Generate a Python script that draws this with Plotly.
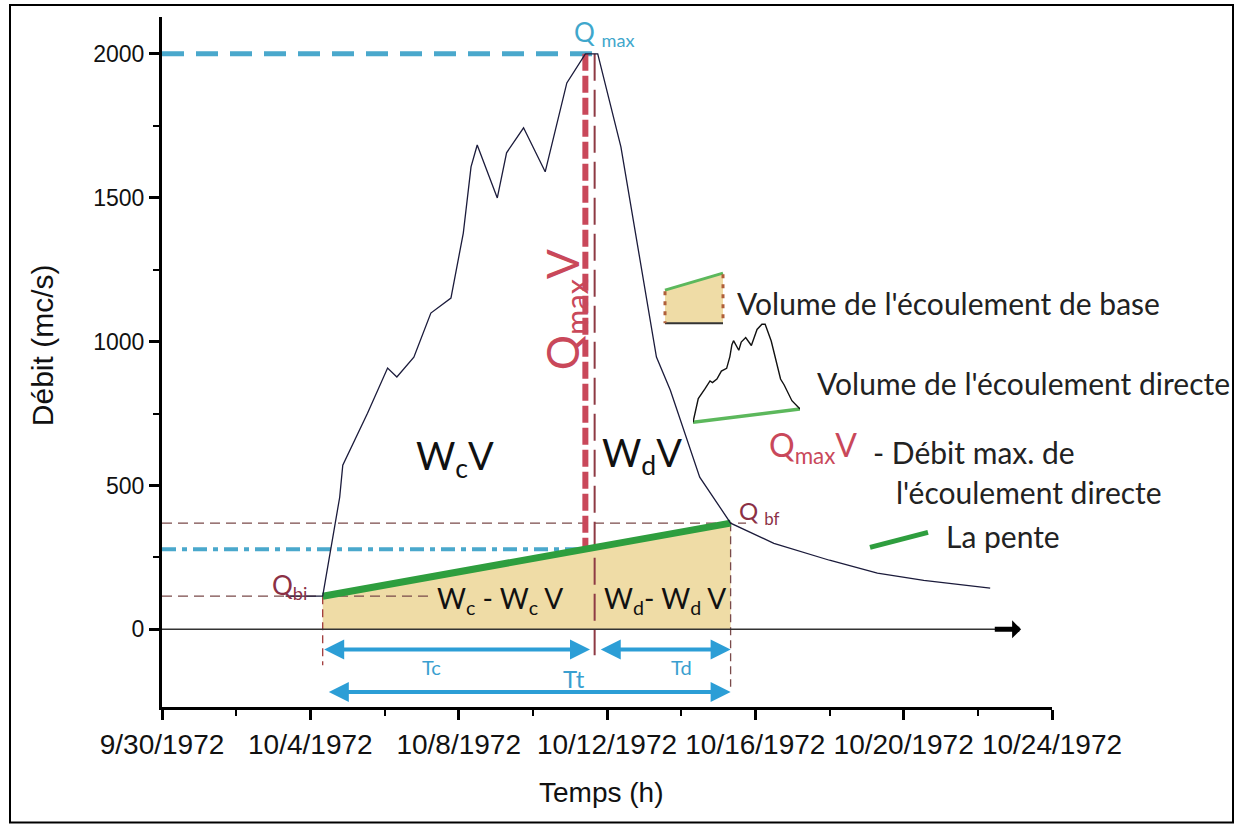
import plotly.graph_objects as go
import pandas as pd

# Flood hydrograph (discharge, m3/s)
time = [
    "1972-10-03 08:00", "1972-10-04 08:00", "1972-10-04 19:00", "1972-10-04 21:00",
    "1972-10-05 13:00", "1972-10-06 02:00", "1972-10-06 08:00", "1972-10-06 19:00",
    "1972-10-07 06:00", "1972-10-07 19:00", "1972-10-08 03:00", "1972-10-08 08:00",
    "1972-10-08 12:00", "1972-10-09 01:00", "1972-10-09 07:00", "1972-10-09 18:00",
    "1972-10-10 08:00", "1972-10-10 22:00", "1972-10-11 10:00", "1972-10-11 18:00",
    "1972-10-12 09:00", "1972-10-13 08:00", "1972-10-13 17:00", "1972-10-14 01:00",
    "1972-10-14 12:00", "1972-10-15 08:00", "1972-10-16 12:00", "1972-10-18 00:00",
    "1972-10-19 07:00", "1972-10-20 13:00", "1972-10-22 08:00",
]
debit = [
    115, 115, 459, 570,
    751, 908, 877, 946,
    1099, 1151, 1377, 1607,
    1683, 1499, 1656, 1743,
    1590, 1899, 2000, 2000,
    1677, 946, 831, 703,
    529, 369, 299, 240,
    195, 170, 143,
]

# Base-flow separation
t_qbi, q_bi = "1972-10-04 08:00", 115      # start of direct runoff
t_qbf, q_bf = "1972-10-15 08:00", 369      # end of direct runoff
t_pic, t_pic_end, q_max = "1972-10-11 10:00", "1972-10-11 18:00", 2000
t_sep = "1972-10-11 16:00"                 # split between Tc and Td

x_ticks_start, x_end = "1972-09-30", "1972-10-24"
y_range = [-270, 2128]

ts = pd.to_datetime(time)
T0, T1 = pd.Timestamp(t_qbi), pd.Timestamp(t_qbf)
frac = (pd.Timestamp(t_pic) - T0) / (T1 - T0)
q_base_pic = q_bi + frac * (q_bf - q_bi)   # base flow under the peak

# plot-area geometry in pixels (used to place the free annotations)
L, R, TOP, BOT = 162, 1052, 17, 706.6
W, H = R - L, BOT - TOP


def px(x, y):
    return dict(xref="paper", yref="paper", x=(x - L) / W, y=(BOT - y) / H)


def pxx(x):
    return (x - L) / W


def pxy(y):
    return (BOT - y) / H


BLUE_LINE = "#4aa8cc"
RED = "#c9485a"
DARK_RED = "#8b3045"
BROWN = "#7a4a4a"
TAN = "#efdca6"
GREEN = "#2e9e3e"
ARROW_BLUE = "#2c9ed6"
TXT_BLUE = "#3a9fd0"
ANN_FONT = "Lato"

fig = go.Figure()

# base-flow volume (area under the separation line)
fig.add_trace(go.Scatter(
    x=[t_qbi, t_qbi, t_qbf, t_qbf, t_qbi], y=[0, q_bi, q_bf, 0, 0],
    fill="toself", fillcolor=TAN, line=dict(width=0), mode="lines",
    hoverinfo="skip", showlegend=False))

# guide lines
fig.add_trace(go.Scatter(x=[x_ticks_start, t_pic_end], y=[q_max, q_max], mode="lines",
                         line=dict(color=BLUE_LINE, width=5, dash="22px,12px"), showlegend=False))
fig.add_trace(go.Scatter(x=[x_ticks_start, t_pic], y=[q_base_pic, q_base_pic], mode="lines",
                         line=dict(color=BLUE_LINE, width=4, dash="14px,6px,5px,6px"), showlegend=False))
fig.add_trace(go.Scatter(x=[x_ticks_start, "1972-10-15 18:00"], y=[q_bf, q_bf], mode="lines",
                         line=dict(color=BROWN, width=1.2, dash="10px,6px"), showlegend=False))
fig.add_trace(go.Scatter(x=[x_ticks_start, "1972-10-07 07:00"], y=[q_bi, q_bi], mode="lines",
                         line=dict(color=BROWN, width=1.2, dash="10px,6px"), showlegend=False))
fig.add_trace(go.Scatter(x=[t_qbi, t_qbi], y=[q_bi, -125], mode="lines",
                         line=dict(color="#a03a3a", width=1.3, dash="8px,5px"), showlegend=False))
fig.add_trace(go.Scatter(x=[t_qbf, t_qbf], y=[q_bf, -200], mode="lines",
                         line=dict(color=BROWN, width=1.3, dash="8px,5px"), showlegend=False))
fig.add_trace(go.Scatter(x=[t_sep, t_sep], y=[q_max, -90], mode="lines",
                         line=dict(color="#8e3a44", width=2, dash="27px,9px"), showlegend=False))
fig.add_trace(go.Scatter(x=[t_pic, t_pic], y=[q_max, q_base_pic], mode="lines",
                         line=dict(color=RED, width=6, dash="17px,5px"), showlegend=False))

# zero line
fig.add_trace(go.Scatter(x=[x_ticks_start, "1972-10-22 12:00"], y=[0, 0], mode="lines",
                         line=dict(color="#333333", width=1.5), showlegend=False))

# separation line (la pente)
fig.add_trace(go.Scatter(x=[t_qbi, t_qbf], y=[q_bi, q_bf], mode="lines",
                         line=dict(color=GREEN, width=7), showlegend=False))

# hydrograph
fig.add_trace(go.Scatter(x=time, y=debit, mode="lines",
                         line=dict(color="#1b1b3b", width=1.3), showlegend=False))

# small hydrograph glyph (direct runoff only) on an inset axis
mask = (ts >= T0) & (ts <= T1)
fig.add_trace(go.Scatter(x=[t_qbi, t_qbf], y=[q_bi, q_bf], mode="lines", xaxis="x2", yaxis="y2",
                         line=dict(color="#5cb85c", width=3.5), showlegend=False))
fig.add_trace(go.Scatter(x=ts[mask], y=[d for d, m in zip(debit, mask) if m], mode="lines",
                         xaxis="x2", yaxis="y2", line=dict(color="#111111", width=1.4), showlegend=False))

shapes = []
# outer frame
shapes.append(dict(type="rect", xref="paper", yref="paper", x0=pxx(10), x1=pxx(1233),
                   y0=pxy(822), y1=pxy(5), line=dict(color="black", width=2)))
# base-flow glyph
path = (f"M {pxx(665)},{pxy(290)} L {pxx(723)},{pxy(273)} L {pxx(723)},{pxy(323)} "
        f"L {pxx(665)},{pxy(323)} Z")
shapes.append(dict(type="path", xref="paper", yref="paper", path=path, fillcolor=TAN,
                   line=dict(width=0)))
shapes.append(dict(type="line", xref="paper", yref="paper", x0=pxx(665), y0=pxy(290),
                   x1=pxx(723), y1=pxy(273), line=dict(color="#5cb85c", width=3)))
shapes.append(dict(type="line", xref="paper", yref="paper", x0=pxx(665), y0=pxy(323),
                   x1=pxx(723), y1=pxy(323), line=dict(color="#333333", width=2)))
for xv, ytop in [(665, 291), (723, 274)]:
    shapes.append(dict(type="line", xref="paper", yref="paper", x0=pxx(xv), y0=pxy(ytop),
                       x1=pxx(xv), y1=pxy(323), line=dict(color="#b0603a", width=3, dash="4px,6px")))
# slope glyph
shapes.append(dict(type="line", xref="paper", yref="paper", x0=pxx(870), y0=pxy(547),
                   x1=pxx(928), y1=pxy(532), line=dict(color=GREEN, width=5)))

annotations = []


def text(x, y, s, size, color="#222222", anchor="left", angle=0, font=ANN_FONT):
    d = px(x, y)
    d.update(text=s, showarrow=False, xanchor=anchor, yanchor="middle", textangle=angle,
             font=dict(family=font, size=size, color=color))
    annotations.append(d)


def arrow(x_tail, x_head, y, color, width, head=2, size=1.0, both=True):
    annotations.append(dict(x=x_head, y=y, ax=x_tail, ay=y, xref="x", yref="y",
                            axref="x", ayref="y", text="", showarrow=True,
                            arrowhead=head, startarrowhead=head, arrowsize=size,
                            startarrowsize=size, arrowwidth=width, arrowcolor=color,
                            arrowside="end+start" if both else "end",
                            standoff=0, startstandoff=0))


# duration arrows
arrow(t_qbi, "1972-10-11 13:00", -70, ARROW_BLUE, 4)
arrow("1972-10-11 19:00", t_qbf, -70, ARROW_BLUE, 4)
arrow("1972-10-04 11:00", t_qbf, -218, ARROW_BLUE, 4)
# axis arrow
arrow("1972-10-22 10:00", "1972-10-23 04:00", 0, "black", 5, head=1, size=0.6, both=False)

text(572, 33, "Q <sub>max</sub>", 26, "#3fa7cc")
text(565, 310, "Q<sub>max</sub>V", 44, RED, anchor="center", angle=-90)
text(455, 458, "W<sub>c</sub>V", 38, "#111111", anchor="center")
text(642, 455, "W<sub>d</sub>V", 38, "#111111", anchor="center")
text(500, 600, "W<sub>c</sub> - W<sub>c</sub> V", 28, "#111111", anchor="center")
text(665, 600, "W<sub>d</sub>- W<sub>d</sub> V", 28, "#111111", anchor="center")
text(270, 586, "Q<sub>bi</sub>", 26, DARK_RED)
text(737, 512, "Q <sub>bf</sub>", 24, DARK_RED)
text(431, 667, "Tc", 20, TXT_BLUE, anchor="center")
text(681, 667, "Td", 20, TXT_BLUE, anchor="center")
text(574, 678, "Tt", 24, TXT_BLUE, anchor="center")

text(735, 303, "Volume de l'écoulement de base", 30)
text(815, 383, "Volume de l'écoulement directe", 30)
text(767, 447, "Q<sub>max</sub>V", 32, RED)
text(871, 452, "- Débit max. de", 30)
text(894, 492, "l'écoulement directe", 30)
text(944, 536, "La pente", 30)

# axis titles
text(42, 345, "Débit (mc/s)", 30, "#111111", anchor="center", angle=-90, font="Liberation Sans")
text(601, 792, "Temps (h)", 28, "#111111", anchor="center", font="Liberation Sans")

fig.update_layout(
    width=1238, height=827,
    margin=dict(l=L, r=1238 - R, t=TOP, b=827 - BOT),
    paper_bgcolor="white", plot_bgcolor="white",
    showlegend=False,
    shapes=shapes, annotations=annotations,
    xaxis=dict(
        type="date", range=[x_ticks_start, x_end], tick0=x_ticks_start,
        dtick=4 * 86400000, tickformat="%-m/%-d/%Y", tickangle=0,
        showgrid=False, zeroline=False, showline=True, linecolor="black", linewidth=3,
        ticks="outside", ticklen=10, tickwidth=2.5, tickcolor="black",
        tickfont=dict(family="Liberation Sans", size=28, color="#111111"),
        minor=dict(dtick=2 * 86400000, ticks="outside", ticklen=6, tickwidth=2, tickcolor="black"),
        fixedrange=True,
    ),
    yaxis=dict(
        range=y_range, tickvals=[0, 500, 1000, 1500, 2000],
        showgrid=False, zeroline=False, showline=True, linecolor="black", linewidth=3,
        ticks="outside", ticklen=10, tickwidth=2.5, tickcolor="black",
        tickfont=dict(family="Liberation Sans", size=23, color="#111111"),
        minor=dict(tickvals=[250, 750, 1250, 1750], ticks="outside", ticklen=6, tickwidth=2,
                   tickcolor="black"),
        fixedrange=True,
    ),
    xaxis2=dict(domain=[pxx(693), pxx(800)], range=[t_qbi, t_qbf], visible=False,
                anchor="y2", type="date"),
    yaxis2=dict(domain=[pxy(428), pxy(318.8)], range=[0, 2100], visible=False, anchor="x2"),
)

fig.write_html("out.html")
